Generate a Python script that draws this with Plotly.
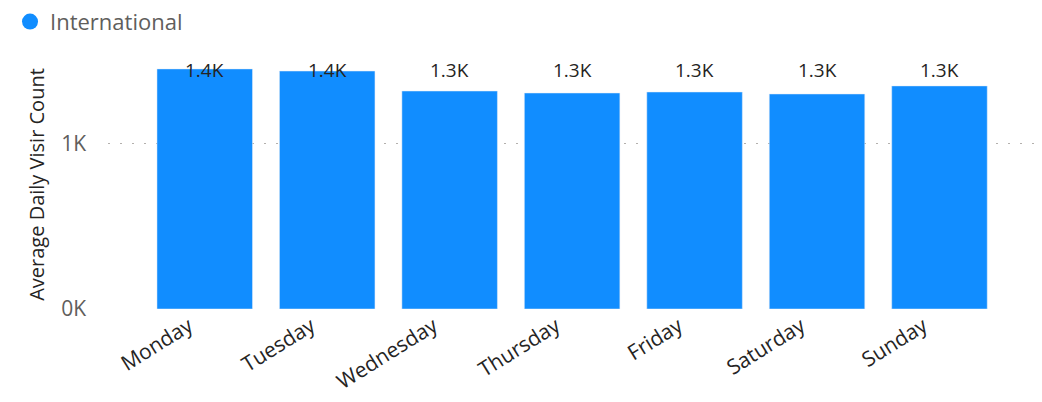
import plotly.graph_objects as go

days = ["Monday", "Tuesday", "Wednesday", "Thursday", "Friday", "Saturday", "Sunday"]
visits = [1455, 1442, 1321, 1309, 1315, 1303, 1352]
labels = ["1.4K", "1.4K", "1.3K", "1.3K", "1.3K", "1.3K", "1.3K"]
y_tickvals = [0, 1000]
y_ticktext = ["0K", "1K"]
series_name = "International"

BLUE = "#118DFF"
DARK = "#252423"
GRAY = "#605E5C"
FONT = "Open Sans, Noto Sans, sans-serif"

fig = go.Figure()
fig.add_trace(go.Bar(x=days, y=visits, marker_color=BLUE, showlegend=False, name=series_name))
# legend entry with circle marker
fig.add_trace(go.Scatter(x=[None], y=[None], mode="markers", name=series_name,
                         marker=dict(symbol="circle", size=19, color=BLUE)))

for d, lab in zip(days, labels):
    fig.add_annotation(x=d, y=1, xref="x", yref="paper", text=lab, showarrow=False,
                       yanchor="top", yshift=5, font=dict(family=FONT, size=19, color=DARK))

fig.update_layout(
    width=1034, height=394,
    margin=dict(l=100, r=7, t=52, b=93, autoexpand=False),
    paper_bgcolor="white", plot_bgcolor="white",
    bargap=0.22,
    font=dict(family=FONT, color=DARK),
    legend=dict(orientation="h", xref="paper", yref="paper", x=-0.1057, y=1.238,
                xanchor="left", yanchor="top", font=dict(size=22, color=GRAY),
                itemwidth=30, tracegroupgap=0, bgcolor="rgba(0,0,0,0)"),
    xaxis=dict(range=[-0.79, 6.78], tickangle=-32, showgrid=False, showline=False,
               automargin=False, ticklabelshift=-16, ticklabelstandoff=0,
               tickfont=dict(size=21, color=DARK), ticks=""),
    yaxis=dict(range=[0, 1509], tickvals=y_tickvals, ticktext=y_ticktext,
               automargin=False, ticklabelstandoff=21,
               showgrid=True, gridcolor="#B3B0AD", griddash="2px,10px", gridwidth=1,
               zeroline=False, showline=False, ticks="",
               tickfont=dict(size=21, color=GRAY),
               title=dict(text="Average Daily Visir Count", font=dict(size=20, color=DARK), standoff=11)),
)

fig.write_html("out.html")
